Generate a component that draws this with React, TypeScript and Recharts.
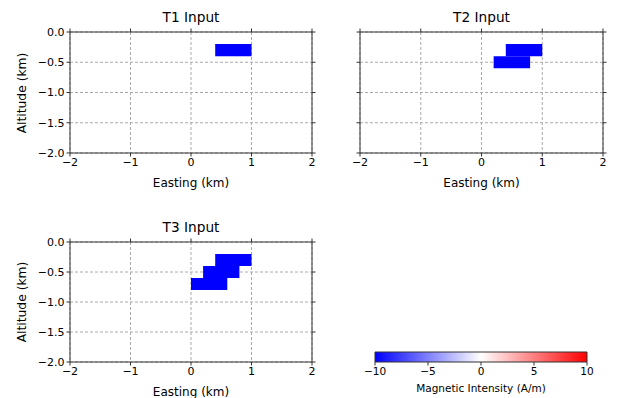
import { ScatterChart, XAxis, YAxis, CartesianGrid, ReferenceArea } from "recharts";

const xTicks = [-2, -1, 0, 1, 2];
const yTicks = [0, -0.5, -1, -1.5, -2];
const cbTicks = [-10, -5, 0, 5, 10];

// each block: easting range, altitude range (km), magnetisation (A/m)
const t1Blocks = [{ x1: 0.4, x2: 1.0, y1: -0.4, y2: -0.2, m: -10 }];
const t2Blocks = [
  { x1: 0.4, x2: 1.0, y1: -0.4, y2: -0.2, m: -10 },
  { x1: 0.2, x2: 0.8, y1: -0.6, y2: -0.4, m: -10 },
];
const t3Blocks = [
  { x1: 0.4, x2: 1.0, y1: -0.4, y2: -0.2, m: -10 },
  { x1: 0.2, x2: 0.8, y1: -0.6, y2: -0.4, m: -10 },
  { x1: 0.0, x2: 0.6, y1: -0.8, y2: -0.6, m: -10 },
];

const FONT = "DejaVu Sans, sans-serif";
const INK = "#333";

// matplotlib "bwr" colormap on [-10, 10]
function bwr(v: number) {
  const t = Math.min(1, Math.max(0, (v + 10) / 20));
  let r, g, b;
  if (t < 0.5) {
    const k = t / 0.5;
    r = g = Math.round(255 * k);
    b = 255;
  } else {
    const k = (t - 0.5) / 0.5;
    r = 255;
    g = b = Math.round(255 * (1 - k));
  }
  return `rgb(${r},${g},${b})`;
}

const minus = (s: string) => s.replace("-", "\u2212");

function Text({ x, y, size, children, rotate }: any) {
  return (
    <div
      style={{
        position: "absolute",
        left: x,
        top: y,
        fontSize: size,
        lineHeight: `${size}px`,
        whiteSpace: "nowrap",
        color: "#000",
        transform: `translate(-50%, -50%)${rotate ? " rotate(-90deg)" : ""}`,
      }}
    >
      {children}
    </div>
  );
}

function Panel({ left, top, w, h, title, blocks, showY }: any) {
  const ml = 15, yw = 55, mt = 27, th = 5, mr = 3, rw = 5, mb = 15, bh = 32;
  const cw = ml + yw + w + rw + mr;
  const ch = mt + th + h + bh + mb;
  const tickStyle = { fontSize: 11, fill: "#000", fontFamily: FONT };
  return (
    <>
      <div style={{ position: "absolute", left: left - ml - yw, top: top - mt - th }}>
        <ScatterChart width={cw} height={ch} margin={{ left: ml, right: mr, top: mt, bottom: mb }}>
          <XAxis xAxisId="b" type="number" dataKey="x" domain={[-2, 2]} ticks={xTicks} orientation="bottom"
            height={bh} tickSize={3.5} tickMargin={2} stroke={INK} tick={tickStyle}
            tickFormatter={(v: number) => minus(String(v))} allowDataOverflow />
          <XAxis xAxisId="t" type="number" dataKey="x" domain={[-2, 2]} ticks={xTicks} orientation="top"
            height={th} tickSize={3.5} stroke={INK} tickFormatter={() => ""} allowDataOverflow />
          <YAxis yAxisId="l" type="number" dataKey="y" domain={[-2, 0]} ticks={yTicks} orientation="left"
            width={yw} tickSize={3.5} tickMargin={2} stroke={INK} tick={tickStyle}
            tickFormatter={(v: number) => (showY ? minus(v.toFixed(1)) : "")} allowDataOverflow />
          <YAxis yAxisId="r" type="number" dataKey="y" domain={[-2, 0]} ticks={yTicks} orientation="right"
            width={rw} tickSize={3.5} stroke={INK} tickFormatter={() => ""} allowDataOverflow />
          <CartesianGrid xAxisId="b" yAxisId="l" stroke="#aaa" strokeDasharray="3 2" />
          {blocks.map((b: any, i: number) => (
            <ReferenceArea key={i} xAxisId="b" yAxisId="l" x1={b.x1} x2={b.x2} y1={b.y1} y2={b.y2}
              fill={bwr(b.m)} fillOpacity={1} stroke="none" />
          ))}
        </ScatterChart>
      </div>
      <Text x={left + w / 2} y={top - 14} size={13.7}>{title}</Text>
      <Text x={left + w / 2} y={top + h + 29.5} size={12}>Easting (km)</Text>
      {showY && <Text x={22} y={top + h / 2} size={12.3} rotate>Altitude (km)</Text>}
    </>
  );
}

function Colorbar({ left, top, w, h }: any) {
  const ml = 12, mr = 12, mt = 5, bh = 20, mb = 5;
  return (
    <>
      <svg width={0} height={0} style={{ position: "absolute" }}>
        <defs>
          <linearGradient id="bwrGrad" x1="0" y1="0" x2="1" y2="0">
            <stop offset="0%" stopColor={bwr(-10)} />
            <stop offset="50%" stopColor={bwr(0)} />
            <stop offset="100%" stopColor={bwr(10)} />
          </linearGradient>
        </defs>
      </svg>
      <div style={{ position: "absolute", left: left - ml, top: top - mt }}>
        <ScatterChart width={ml + w + mr} height={mt + h + bh + mb} margin={{ left: ml, right: mr, top: mt, bottom: mb }}>
          <XAxis xAxisId="b" type="number" dataKey="x" domain={[-10, 10]} ticks={cbTicks} height={bh}
            tickSize={3.5} tickMargin={2} stroke={INK} axisLine={false}
            tick={{ fontSize: 10.5, fill: "#000", fontFamily: FONT }}
            tickFormatter={(v: number) => minus(String(v))} allowDataOverflow />
          <YAxis yAxisId="l" type="number" dataKey="y" domain={[0, 1]} hide width={0} allowDataOverflow />
          <ReferenceArea xAxisId="b" yAxisId="l" x1={-10} x2={10} y1={0} y2={1}
            fill="url(#bwrGrad)" fillOpacity={1} stroke={INK} strokeWidth={1} />
        </ScatterChart>
      </div>
      <Text x={left + w / 2} y={top + h + 26} size={10.5}>Magnetic Intensity (A/m)</Text>
    </>
  );
}

export default function App() {
  return (
    <div style={{ position: "absolute", left: 0, top: 0, width: 622, height: 398, background: "#fff", fontFamily: FONT }}>
      <Panel left={70} top={32} w={242} h={121} title="T1 Input" blocks={t1Blocks} showY />
      <Panel left={360} top={32} w={243} h={121} title="T2 Input" blocks={t2Blocks} showY={false} />
      <Panel left={70} top={242} w={242} h={120} title="T3 Input" blocks={t3Blocks} showY />
      <Colorbar left={375} top={352} w={212} h={10} />
    </div>
  );
}
